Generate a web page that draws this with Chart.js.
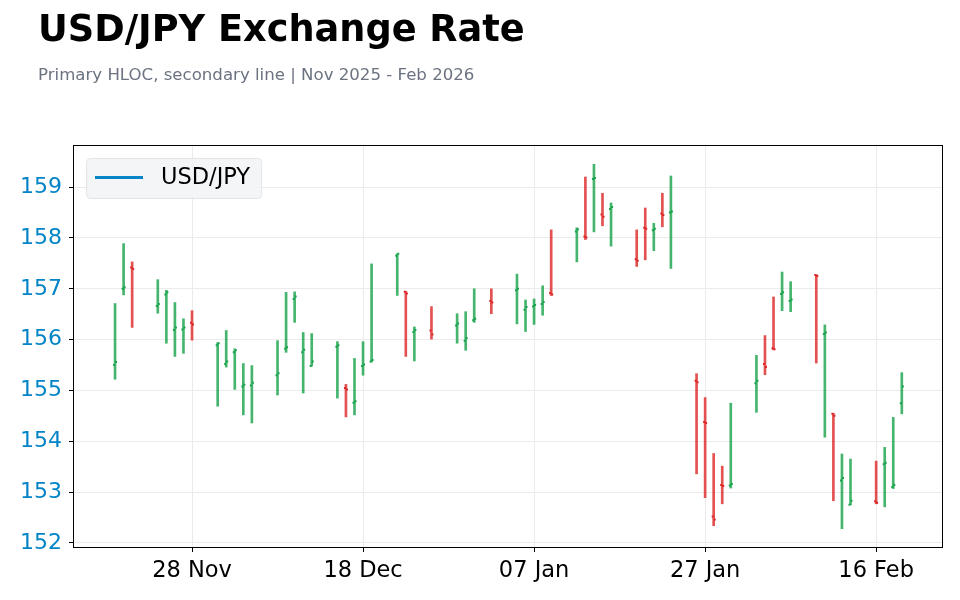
<!DOCTYPE html>
<html lang="en">
<head>
<meta charset="UTF-8">
<title>USD/JPY Exchange Rate</title>
<script src="https://cdn.jsdelivr.net/npm/chart.js"></script>
<style>
  body { margin: 0; background: #fff; font-family: 'DejaVu Sans', sans-serif; }
  .wrap { position: relative; width: 960px; height: 600px; overflow: hidden; }
  h1 { position: absolute; left: 38px; top: 11px; margin: 0; font-size: 36.7px; line-height: 1; font-weight: bold; color: #000; }
  .sub { position: absolute; left: 38px; top: 66.5px; margin: 0; font-size: 16.6px; line-height: 1; color: #6b7280; }
  canvas { position: absolute; left: 0; top: 0; }
</style>
</head>
<body>
<div class="wrap">
  <canvas id="fx" width="960" height="600"></canvas>
  <h1>USD/JPY Exchange Rate</h1>
  <p class="sub">Primary HLOC, secondary line | Nov 2025 - Feb 2026</p>
</div>
<script>
// daily bars, weekdays only (no bar on 25 Dec and 1 Jan)
const dates = [
  '2025-11-19','2025-11-20','2025-11-21',
  '2025-11-24','2025-11-25','2025-11-26','2025-11-27','2025-11-28',
  '2025-12-01','2025-12-02','2025-12-03','2025-12-04','2025-12-05',
  '2025-12-08','2025-12-09','2025-12-10','2025-12-11','2025-12-12',
  '2025-12-15','2025-12-16','2025-12-17','2025-12-18','2025-12-19',
  '2025-12-22','2025-12-23','2025-12-24','2025-12-26',
  '2025-12-29','2025-12-30','2025-12-31','2026-01-02',
  '2026-01-05','2026-01-06','2026-01-07','2026-01-08','2026-01-09',
  '2026-01-12','2026-01-13','2026-01-14','2026-01-15','2026-01-16',
  '2026-01-19','2026-01-20','2026-01-21','2026-01-22','2026-01-23',
  '2026-01-26','2026-01-27','2026-01-28','2026-01-29','2026-01-30',
  '2026-02-02','2026-02-03','2026-02-04','2026-02-05','2026-02-06',
  '2026-02-09','2026-02-10','2026-02-11','2026-02-12','2026-02-13',
  '2026-02-16','2026-02-17','2026-02-18','2026-02-19'
];
const opens = [
  155.50, 157.00, 157.42,
  156.66, 156.89, 156.19, 156.20, 156.33,
  155.89, 155.52, 155.75, 155.08, 155.10,
  155.30, 155.82, 156.80, 155.75, 155.48,
  155.86, 155.05, 154.76, 155.48, 155.57,
  157.65, 156.94, 156.15, 156.18,
  156.28, 155.98, 156.38, 156.76,
  156.97, 156.59, 156.65, 156.70, 156.92,
  158.13, 158.03, 159.16, 158.46, 158.57,
  157.58, 158.20, 158.15, 158.48, 158.50,
  155.19, 154.38, 152.52, 153.14, 153.13,
  155.14, 155.52, 155.83, 156.90, 156.76,
  157.27, 156.11, 154.54, 153.23, 152.75,
  152.82, 153.55, 153.10, 154.75
];
const highs = [
  156.71, 157.89, 157.53,
  157.18, 156.97, 156.73, 156.41, 156.57,
  155.94, 156.18, 155.82, 155.53, 155.49,
  155.98, 156.93, 156.94, 156.14, 156.12,
  155.96, 155.12, 155.63, 155.96, 157.49,
  157.69, 156.95, 156.25, 156.65,
  156.51, 156.55, 157.00, 157.00,
  157.29, 156.78, 156.80, 157.06, 158.16,
  158.20, 159.20, 159.45, 158.88, 158.69,
  158.16, 158.59, 158.29, 158.88, 159.22,
  155.33, 154.86, 153.76, 153.51, 154.75,
  155.69, 156.08, 156.84, 157.33, 157.14,
  157.28, 156.29, 154.55, 153.75, 153.65,
  153.61, 153.88, 154.47, 155.35
];
const lows = [
  155.22, 156.88, 156.24,
  156.52, 155.93, 155.67, 155.73, 155.99,
  154.69, 155.46, 155.02, 154.52, 154.36,
  154.91, 155.75, 156.34, 154.95, 155.48,
  154.85, 154.48, 154.52, 155.30, 155.56,
  156.87, 155.67, 155.58, 156.01,
  155.93, 155.79, 156.34, 156.51,
  156.31, 156.16, 156.30, 156.48, 156.87,
  157.53, 157.97, 158.12, 158.24, 157.84,
  157.44, 157.57, 157.75, 158.22, 157.40,
  153.36, 152.89, 152.34, 152.77, 153.08,
  154.57, 155.31, 155.80, 156.57, 156.55,
  155.54, 154.08, 152.83, 152.28, 152.75,
  152.77, 152.71, 153.07, 154.54
];
const closes = [
  155.56, 157.03, 157.39,
  156.70, 156.93, 156.24, 156.24, 156.30,
  155.93, 155.57, 155.79, 155.11, 155.15,
  155.34, 155.85, 156.85, 155.80, 155.57,
  155.89, 155.02, 154.79, 155.51, 155.60,
  157.69, 156.91, 156.19, 156.10,
  156.32, 156.03, 156.41, 156.73,
  157.00, 156.64, 156.68, 156.74, 156.89,
  158.17, 158.01, 159.18, 158.42, 158.61,
  157.55, 158.18, 158.18, 158.45, 158.52,
  155.16, 154.36, 152.46, 153.12, 153.16,
  155.19, 155.46, 155.81, 156.93, 156.79,
  157.25, 156.14, 154.50, 153.28, 152.83,
  152.79, 153.58, 153.14, 155.08
];
const xTickDates = ['2025-11-28', '2025-12-18', '2026-01-07', '2026-01-27', '2026-02-16'];
const xTickLabels = ['28 Nov', '18 Dec', '07 Jan', '27 Jan', '16 Feb'];
const yTicks = [152, 153, 154, 155, 156, 157, 158, 159];
const seriesName = 'USD/JPY';

const UP = '#16a34a', DOWN = '#dc2626', BLUE = '#0284c7';
const FONT = "'DejaVu Sans', sans-serif";

// day number relative to 28 Nov 2025 (linear x axis, no date adapter needed)
const base = Date.UTC(2025, 10, 28);
const dayNum = s => {
  const [y, m, d] = s.split('-').map(Number);
  return (Date.UTC(y, m - 1, d) - base) / 86400000;
};
const xs = dates.map(dayNum);
const isUp = closes.map((c, i) => c >= opens[i]);

// open/close ticks, outer frame and in-plot legend
const hlocExtras = {
  id: 'hlocExtras',
  afterDatasetsDraw(chart) {
    const {ctx, scales: {x, y}} = chart;
    ctx.save();
    ctx.lineWidth = 2;
    xs.forEach((d, i) => {
      const px = x.getPixelForValue(d);
      ctx.strokeStyle = isUp[i] ? UP : DOWN;
      const yo = y.getPixelForValue(opens[i]);
      const yc = y.getPixelForValue(closes[i]);
      ctx.beginPath();
      ctx.moveTo(px - 2, yo); ctx.lineTo(px, yo);
      ctx.moveTo(px, yc); ctx.lineTo(px + 2, yc);
      ctx.stroke();
    });
    ctx.restore();
  },
  afterDraw(chart) {
    const {ctx, chartArea: a} = chart;
    ctx.save();
    ctx.strokeStyle = '#000';
    ctx.lineWidth = 1;
    ctx.strokeRect(a.left - 0.5, a.top - 0.5, a.right - a.left + 1, a.bottom - a.top + 1);

    ctx.font = '22.5px ' + FONT;
    const tw = ctx.measureText(seriesName).width;
    const bx = a.left + 12, by = a.top + 12, bh = 40;
    const bw = 9 + 48 + 18 + tw + 11;
    ctx.beginPath();
    ctx.roundRect(bx + 0.5, by + 0.5, bw, bh, 4);
    ctx.fillStyle = 'rgba(243,244,246,0.9)';
    ctx.fill();
    ctx.strokeStyle = '#e2e4e8';
    ctx.stroke();
    const my = by + 19.5;
    ctx.strokeStyle = BLUE;
    ctx.lineWidth = 3;
    ctx.beginPath();
    ctx.moveTo(bx + 9, my); ctx.lineTo(bx + 57, my);
    ctx.stroke();
    ctx.fillStyle = '#000';
    ctx.textBaseline = 'middle';
    ctx.fillText(seriesName, bx + 75, my + 1);
    ctx.restore();
  }
};

new Chart(document.getElementById('fx'), {
  type: 'bar',
  data: {
    datasets: [{
      label: seriesName,
      data: xs.map((d, i) => ({x: d, y: [lows[i], highs[i]]})),
      backgroundColor: isUp.map(u => u ? 'rgba(22,163,74,0.8)' : 'rgba(220,38,38,0.8)'),
      borderWidth: 0,
      barThickness: 2
    }]
  },
  options: {
    responsive: false,
    animation: false,
    layout: { padding: { top: 146, right: 18, left: 0, bottom: 0 } },
    plugins: { legend: { display: false }, tooltip: { enabled: false } },
    scales: {
      x: {
        type: 'linear',
        min: -13.8,
        max: 87.7,
        offset: false,
        afterBuildTicks: s => { s.ticks = xTickDates.map(d => ({value: dayNum(d)})); },
        afterFit: s => { s.height = 53; },
        grid: { offset: false, color: '#ebebeb', tickColor: '#000', tickLength: 5 },
        border: { display: false },
        ticks: {
          autoSkip: false,
          maxRotation: 0,
          padding: 6,
          color: '#000',
          font: { family: FONT, size: 22.5 },
          callback: (v, i) => xTickLabels[i]
        }
      },
      y: {
        min: 151.92,
        max: 159.81,
        afterBuildTicks: s => { s.ticks = yTicks.map(v => ({value: v})); },
        afterFit: s => { s.width = 74; },
        grid: { color: '#ebebeb', tickColor: '#000', tickLength: 5 },
        border: { display: false },
        ticks: {
          padding: 7,
          color: BLUE,
          font: { family: FONT, size: 22 },
          callback: v => String(v)
        }
      }
    }
  },
  plugins: [hlocExtras]
});
</script>
</body>
</html>
